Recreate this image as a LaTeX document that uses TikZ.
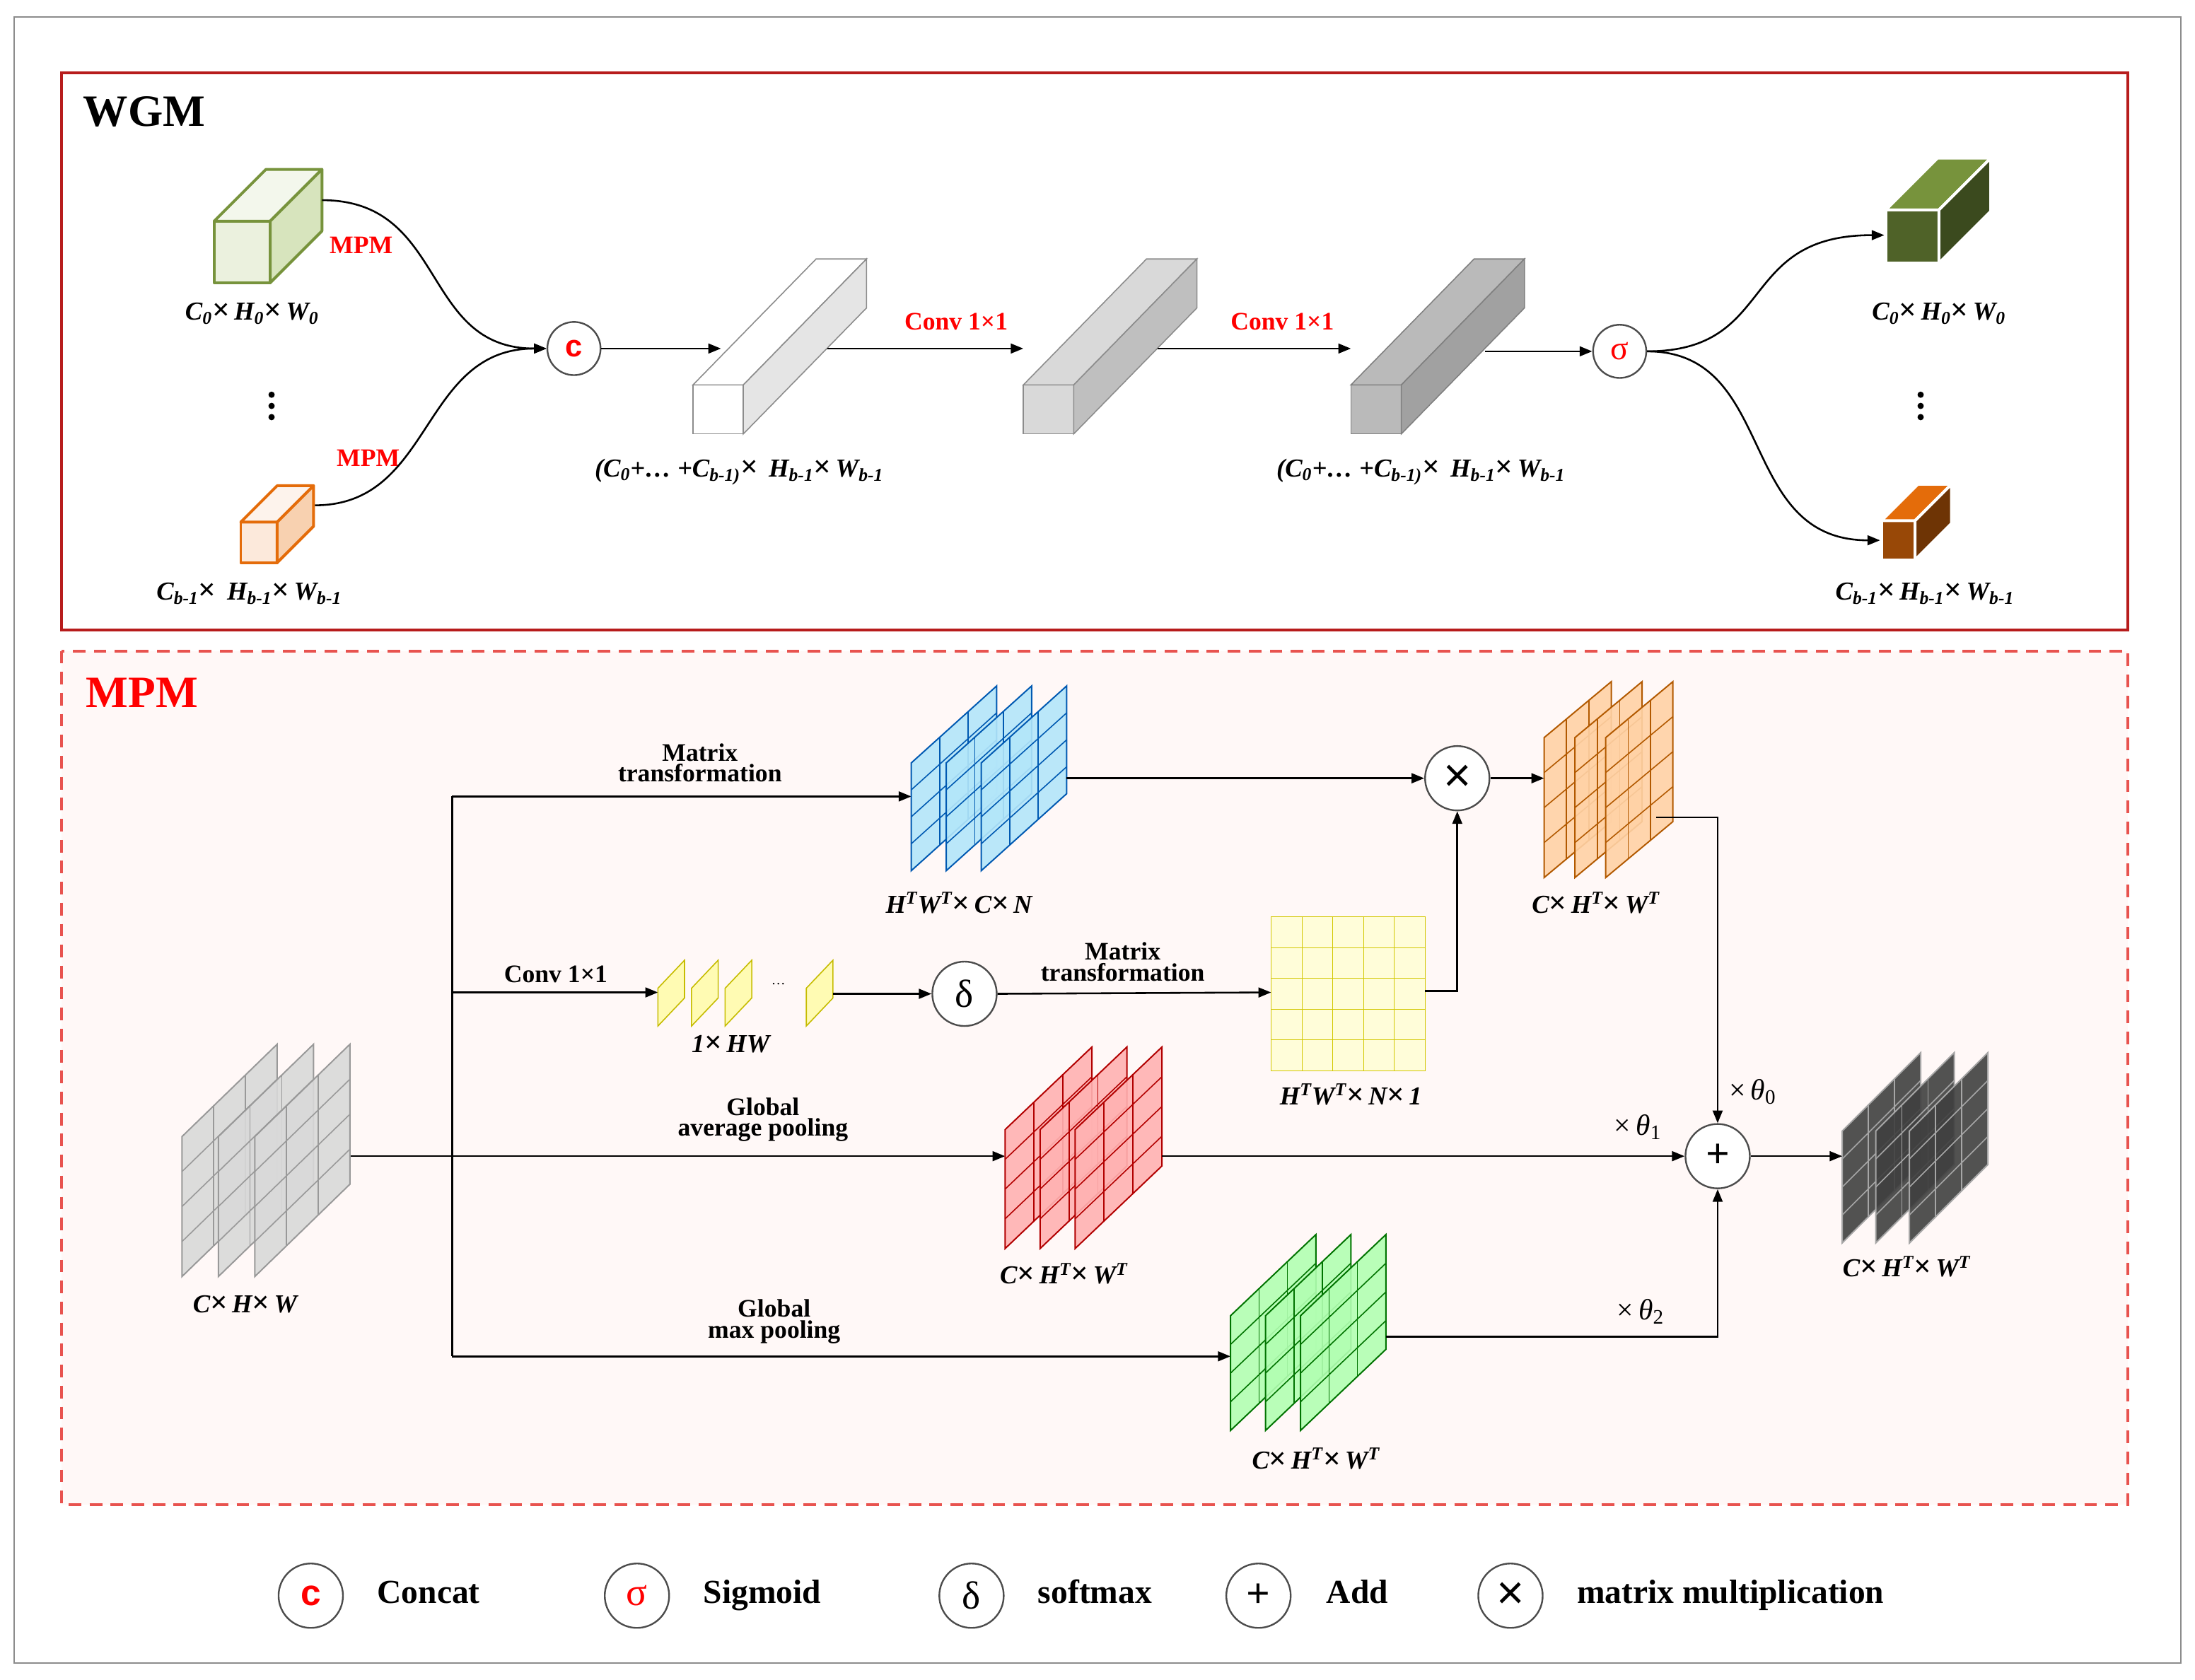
\documentclass[tikz,border=0pt]{standalone}
\usepackage{fontspec}
\setmainfont{Liberation Serif}
\newfontfamily\sansf{Liberation Sans}
\usetikzlibrary{arrows.meta}
\definecolor{wgmred}{HTML}{B71C1C}
\definecolor{mpmred}{HTML}{E8534F}
\definecolor{mpmbg}{HTML}{FFF8F7}
\definecolor{gfront}{HTML}{EBF1DE}
\definecolor{gtop}{HTML}{F3F7EC}
\definecolor{gside}{HTML}{D7E4BD}
\definecolor{gdraw}{HTML}{77933C}
\definecolor{dgfront}{HTML}{4F6228}
\definecolor{dgtop}{HTML}{77933C}
\definecolor{dgside}{HTML}{3B4A1E}
\definecolor{ofront}{HTML}{FCE9DB}
\definecolor{otop}{HTML}{FDF3EC}
\definecolor{oside}{HTML}{F8D1B0}
\definecolor{odraw}{HTML}{E46C0A}
\definecolor{dofront}{HTML}{984807}
\definecolor{dotop}{HTML}{E46C0A}
\definecolor{doside}{HTML}{6E3405}
\tikzset{
  ar/.style={-{Triangle[length=9pt,width=7pt]},line width=1.3pt},
  ln/.style={line width=1.3pt},
  op/.style={circle,draw=black!70,line width=1.2pt,fill=white,minimum size=46pt,inner sep=0pt},
  lbl/.style={font=\fontsize{18.5}{20}\selectfont\bfseries\itshape},
  txt/.style={font=\fontsize{18}{18}\selectfont\bfseries,align=center},
  redtxt/.style={font=\fontsize{18}{19}\selectfont\bfseries,text=red},
  leg/.style={font=\fontsize{24}{25}\selectfont\bfseries,anchor=west,text height=16pt,text depth=5pt},
  dot/.style={circle,fill=black,inner sep=0pt,minimum size=4.5pt},
}
\newcommand{\X}{{\fontsize{22}{20}\selectfont\upshape×}}
\newcommand{\mycube}[9]{%
  \filldraw[fill=#6,draw=#9,line width=2pt,line join=round] (#1,#2) rectangle ++(#3,-#4);
  \filldraw[fill=#7,draw=#9,line width=2pt,line join=round] (#1,#2-#4) -- ++(#3,0) -- ++(#5,-#5) -- ++(-#3,0) -- cycle;
  \filldraw[fill=#8,draw=#9,line width=2pt,line join=round] (#1+#3,#2) -- ++(0,-#4) -- ++(#5,-#5) -- ++(0,#4) -- cycle;}
\newcommand{\mybar}[5]{%
  \filldraw[fill=#3,draw=#5,line width=0.8pt] (#1,#2) rectangle ++(36,-35);
  \filldraw[fill=#3,draw=#5,line width=0.8pt] (#1,#2-35) -- ++(36,0) -- ++(88,-90) -- ++(-36,0) -- cycle;
  \filldraw[fill=#4,draw=#5,line width=0.8pt] (#1+36,#2) -- ++(0,-35) -- ++(88,-90) -- ++(0,35) -- cycle;}
\newcommand{\pstack}[9]{%
  \foreach \i in {1,...,#7}{%
    \pgfmathsetmacro{\xx}{#1+(\i-1)*#6}
    \filldraw[fill=#8,fill opacity=0.9,draw=#9,line width=1pt] (\xx,#2) -- (\xx,#2-#4) -- (\xx+#3,#2-#4-#5) -- (\xx+#3,#2-#5) -- cycle;
    \foreach \c in {1,2}{\draw[#9,line width=0.8pt] (\xx+\c*#3/3,#2-\c*#5/3) -- (\xx+\c*#3/3,#2-#4-\c*#5/3);}
    \foreach \r in {1,2,3}{\draw[#9,line width=0.8pt] (\xx,#2-\r*#4/4) -- (\xx+#3,#2-\r*#4/4-#5);}
  }}
\begin{document}
\begin{tikzpicture}[x=1pt,y=-1pt]
\useasboundingbox (0,0) rectangle (1568,1200);
\draw[black!45,line width=1pt] (10,12) rectangle (1558,1188);
% WGM
\draw[wgmred,line width=2.2pt] (44,52) rectangle (1520,450);
\node[anchor=west,font=\fontsize{32}{34}\selectfont\bfseries] (wgm) at (56,80) {WGM};
\mycube{153}{202}{40}{44}{37}{gfront}{gtop}{gside}{gdraw}
\mycube{172}{402}{26}{29}{26}{ofront}{otop}{oside}{odraw}
\coordinate (g0) at (230,143);
\coordinate (o0) at (225,361);
\node[lbl] (l1) at (180,224) {C\textsubscript{0}\X\,H\textsubscript{0}\X\,W\textsubscript{0}};
\node[lbl] (l2) at (178,424) {C\textsubscript{b-1}\X\, H\textsubscript{b-1}\X\,W\textsubscript{b-1}};
\foreach \yy/\nm in {282/da,290/db,298/dc}{\node[dot] (\nm) at (194,\yy) {};}
\node[op,minimum size=38pt,font=\sansf\fontsize{22}{22}\selectfont\bfseries,text=red] (cat) at (410,249) {c};
\node[redtxt] (m1) at (258,175) {MPM};
\node[redtxt] (m2) at (263,327) {MPM};
\draw[ar] (g0) .. controls (320,143) and (300,249) .. (cat.west);
\draw[ar] (o0) .. controls (310,361) and (300,249) .. (cat.west);
\coordinate (b1in) at (515,249);
\draw[ar] (cat.east) -- (b1in);
\mybar{495}{310}{white}{black!10}{black!45}
\draw[ar] (591,249) -- (731,249);
\node[redtxt] (cv1) at (683,230) {Conv 1×1};
\mybar{731}{310}{black!15}{black!25}{black!45}
\draw[ar] (827,249) -- (965,249);
\node[redtxt] (cv2) at (916,230) {Conv 1×1};
\mybar{965}{310}{black!27}{black!37}{black!50}
\node[op,minimum size=38pt,font=\fontsize{24}{24}\selectfont,text=red] (sig) at (1157,251) {σ};
\draw[ar] (1061,251) -- (sig.west);
\node[lbl] (l3) at (528,337) {(C\textsubscript{0}+… +C\textsubscript{b-1)}\X\, H\textsubscript{b-1}\X\,W\textsubscript{b-1}};
\node[lbl] (l4) at (1015,337) {(C\textsubscript{0}+… +C\textsubscript{b-1)}\X\, H\textsubscript{b-1}\X\,W\textsubscript{b-1}};
\coordinate (go) at (1346,168);
\coordinate (oo) at (1343,386);
\draw[ar] (sig.east) .. controls (1270,251) and (1240,168) .. (go);
\draw[ar] (sig.east) .. controls (1270,251) and (1240,386) .. (oo);
\mycube{1347}{188}{38}{38}{37}{dgfront}{dgtop}{dgside}{white}
\mycube{1344}{400}{24}{28}{26}{dofront}{dotop}{doside}{white}
\node[lbl] (l5) at (1385,224) {C\textsubscript{0}\X\,H\textsubscript{0}\X\,W\textsubscript{0}};
\node[lbl] (l6) at (1375,424) {C\textsubscript{b-1}\X\,H\textsubscript{b-1}\X\,W\textsubscript{b-1}};
\foreach \yy/\nm in {282/de,290/df,298/dg}{\node[dot] (\nm) at (1372,\yy) {};}
% MPM
\draw[mpmred,line width=2pt,dash pattern=on 9pt off 6pt,fill=mpmbg] (44,465) rectangle (1520,1075);
\node[anchor=west,font=\fontsize{32}{34}\selectfont\bfseries,text=red] (mpm) at (58,495) {MPM};
\draw[ln] (323,569) -- (323,969);
\draw[ar] (250,826) -- (718,826);
\draw[ar] (323,569) -- (651,569);
\draw[ar] (323,709) -- (470,709);
\draw[ar] (323,969) -- (879,969);
\node[txt] (t1) at (500,545) {Matrix\\[-3pt]transformation};
\node[txt] (t2) at (397,696) {Conv 1×1};
\node[txt] (t3) at (545,800) {Global\\[-3pt]average pooling};
\node[txt] (t4) at (553,944) {Global\\[-3pt]max pooling};
\pstack{130}{912}{68}{100}{66}{26}{3}{black!15}{black!40}
\node[lbl] (l7) at (175,932) {C\X\,H\X\,W};
\pstack{651}{622}{61}{77}{55}{25}{3}{cyan!30}{blue!50!cyan!70!black}
\node[lbl] (l8) at (685,645) {H\textsuperscript{T}W\textsuperscript{T}\X\,C\X\,N};
\foreach \xx/\nm in {470/y1,494/y2,518/y3,576/y4}{
  \filldraw[fill=yellow!30,draw=yellow!50!olive,line width=0.8pt] (\xx,733) -- (\xx,706) -- (\xx+19,686) -- (\xx+19,713) -- cycle;}
\node (dots) at (556,703) {…};
\node[lbl] (l9) at (522,746) {1\X\,HW};
\node[op,font=\fontsize{28}{28}\selectfont] (del) at (689,710) {δ};
\draw[ar] (595,710) -- (del.west);
\filldraw[fill=yellow!15,draw=yellow!60!olive] (908,655) rectangle (1018,765);
\foreach \k in {1,...,4}{\draw[yellow!60!olive] (908+\k*22,655) -- (908+\k*22,765); \draw[yellow!60!olive] (908,655+\k*22) -- (1018,655+\k*22);}
\coordinate (ymat) at (908,709);
\draw[ar] (del.east) -- (ymat);
\node[txt] (t5) at (802,687) {Matrix\\[-3pt]transformation};
\node[lbl] (l10) at (965,782) {H\textsuperscript{T}W\textsuperscript{T}\X\,N\X\,1};
\node[op,font=\sansf\fontsize{34}{34}\selectfont] (mul) at (1041,556) {×};
\draw[ar] (1018,708) -- (1041,708) -- (mul.south);
\draw[ar] (762,556) -- (mul.west);
\pstack{1103}{627}{48}{100}{40}{22}{3}{orange!35}{orange!70!black}
\draw[ar] (mul.east) -- (1103,556);
\node[lbl] (l11) at (1140,645) {C\X\,H\textsuperscript{T}\X\,W\textsuperscript{T}};
\pstack{718}{892}{62}{85}{59}{25}{3}{red!30}{red!70!black}
\node[lbl] (l12) at (760,910) {C\X\,H\textsuperscript{T}\X\,W\textsuperscript{T}};
\pstack{879}{1022}{61}{82}{58}{25}{3}{green!30}{green!45!black}
\node[lbl] (l13) at (940,1042) {C\X\,H\textsuperscript{T}\X\,W\textsuperscript{T}};
\node[op,font=\fontsize{30}{30}\selectfont\bfseries] (add) at (1227,826) {+};
\draw[ar] (1183,584) -- (1227,584) -- (add.north);
\draw[ar] (830,826) -- (add.west);
\draw[ar] (990,955) -- (1227,955) -- (add.south);
\node[font=\fontsize{21}{21}\selectfont] (th0) at (1252,780) {×\,\textit{θ}\textsubscript{0}};
\node[font=\fontsize{21}{21}\selectfont] (th1) at (1170,805) {×\,\textit{θ}\textsubscript{1}};
\node[font=\fontsize{21}{21}\selectfont] (th2) at (1172,937) {×\,\textit{θ}\textsubscript{2}};
\pstack{1316}{888}{56}{80}{56}{24}{3}{black!75}{black!35}
\draw[ar] (add.east) -- (1316,826);
\node[lbl] (l14) at (1362,905) {C\X\,H\textsuperscript{T}\X\,W\textsuperscript{T}};
% legend
\node[op,font=\sansf\fontsize{26}{26}\selectfont\bfseries,text=red] (g1) at (222,1140) {c};
\node[leg] (gt1) at (266,1140) {Concat};
\node[op,font=\fontsize{28}{28}\selectfont,text=red] (g2) at (455,1140) {σ};
\node[leg] (gt2) at (499,1140) {Sigmoid};
\node[op,font=\fontsize{28}{28}\selectfont] (g3) at (694,1140) {δ};
\node[leg] (gt3) at (738,1140) {softmax};
\node[op,font=\fontsize{30}{30}\selectfont\bfseries] (g4) at (899,1140) {+};
\node[leg] (gt4) at (944,1140) {Add};
\node[op,font=\sansf\fontsize{34}{34}\selectfont] (g5) at (1079,1140) {×};
\node[leg] (gt5) at (1123,1140) {matrix multiplication};
\end{tikzpicture}
\end{document}
